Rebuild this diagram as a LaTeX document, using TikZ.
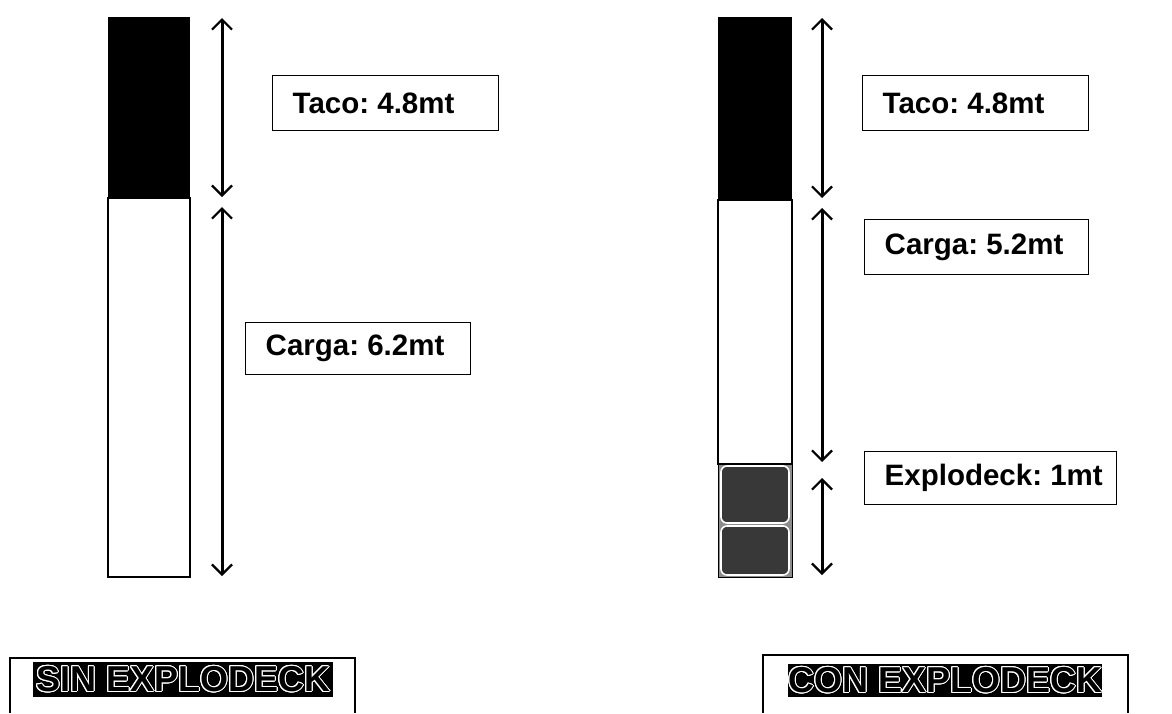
\documentclass[tikz,border=0pt]{standalone}
\usepackage{fontspec}
\setmainfont{Liberation Sans}
\usepackage{contour}
\contourlength{1.1pt}
\usetikzlibrary{arrows.meta}
\frenchspacing
\tikzset{
  dim/.style={line width=3pt, {Straight Barb[length=10pt,width=20pt,line width=2.2pt]}-{Straight Barb[length=10pt,width=20pt,line width=2.2pt]}},
  lbl/.style={draw, line width=1.4pt, anchor=north west, inner xsep=0pt, inner ysep=0pt,
     font=\bfseries\fontsize{29.5}{34}\selectfont\frenchspacing},
  col/.style={draw, line width=1.2pt},
  band/.style={fill=black, inner sep=0pt, anchor=north west, font=\bfseries\fontsize{36}{38}\selectfont},
  frame/.style={line width=1.4pt},
  deck/.style={fill=black!78, draw=white, line width=1.6pt, rounded corners=6pt}
}
\newcommand{\labtext}[2]{\hspace*{20pt}\makebox[#1][l]{#2}}
\begin{document}
\begin{tikzpicture}[x=1pt,y=-1pt]
\useasboundingbox (0,0) rectangle (1172,713);
% ---------- left column ----------
\coordinate (L0) at (108,17);
\coordinate (L1) at (190,198);
\coordinate (L2) at (108,198);
\coordinate (L3) at (190,577);
\fill[black] (L0) rectangle (L1);
\draw[col] (L2) rectangle (L3);
\coordinate (la1) at (222,18);
\coordinate (la2) at (222,197);
\coordinate (la3) at (222,207);
\coordinate (la4) at (222,576);
\draw[dim] (la1) -- (la2);
\draw[dim] (la3) -- (la4);
\node[lbl, minimum width=226pt, minimum height=55pt] (tacoL) at (272,75) {\labtext{206pt}{Taco: 4.8mt}};
\node[lbl, minimum width=225pt, minimum height=52pt] (cargaL) at (245,322) {\labtext{205pt}{Carga: 6.2mt}};
% ---------- right column ----------
\coordinate (R0) at (718,17);
\coordinate (R1) at (792,200);
\coordinate (R2) at (718,200);
\coordinate (R3) at (792,464);
\coordinate (R4) at (718,464);
\coordinate (R5) at (792,577);
\fill[black] (R0) rectangle (R1);
\draw[col] (R2) rectangle (R3);
\fill[black!45] (R4) rectangle (R5);
\draw[black, line width=1pt] (R4) rectangle (R5);
\coordinate (D0) at (721,466);
\coordinate (D1) at (789,523);
\coordinate (D2) at (721,526);
\coordinate (D3) at (789,575);
\draw[deck] (D0) rectangle (D1);
\draw[deck] (D2) rectangle (D3);
\coordinate (ra1) at (822,18);
\coordinate (ra2) at (822,198);
\coordinate (ra3) at (822,208);
\coordinate (ra4) at (822,462);
\coordinate (ra5) at (822,478);
\coordinate (ra6) at (822,575);
\draw[dim] (ra1) -- (ra2);
\draw[dim] (ra3) -- (ra4);
\draw[dim] (ra5) -- (ra6);
\node[lbl, minimum width=226pt, minimum height=55pt] (tacoR) at (862,75) {\labtext{206pt}{Taco: 4.8mt}};
\node[lbl, minimum width=224pt, minimum height=55pt] (cargaR) at (864,219) {\labtext{204pt}{Carga: 5.2mt}};
\node[lbl, minimum width=252pt, minimum height=53pt] (deckR) at (864,451) {\labtext{232pt}{Explodeck: 1mt}};
% ---------- bottom captions ----------
\coordinate (b1) at (10,713);
\coordinate (b2) at (10,658);
\coordinate (b3) at (355,658);
\coordinate (b4) at (355,713);
\draw[frame] (b1) -- (b2) -- (b3) -- (b4);
\node[band, minimum width=300pt, minimum height=35pt] (sin) at (33,662) {\contour{white}{SIN EXPLODECK}};
\coordinate (c1) at (763,713);
\coordinate (c2) at (763,655);
\coordinate (c3) at (1128,655);
\coordinate (c4) at (1128,713);
\draw[frame] (c1) -- (c2) -- (c3) -- (c4);
\node[band, minimum width=314pt, minimum height=33pt] (con) at (788,664) {\contour{white}{CON EXPLODECK}};
\end{tikzpicture}
\end{document}
